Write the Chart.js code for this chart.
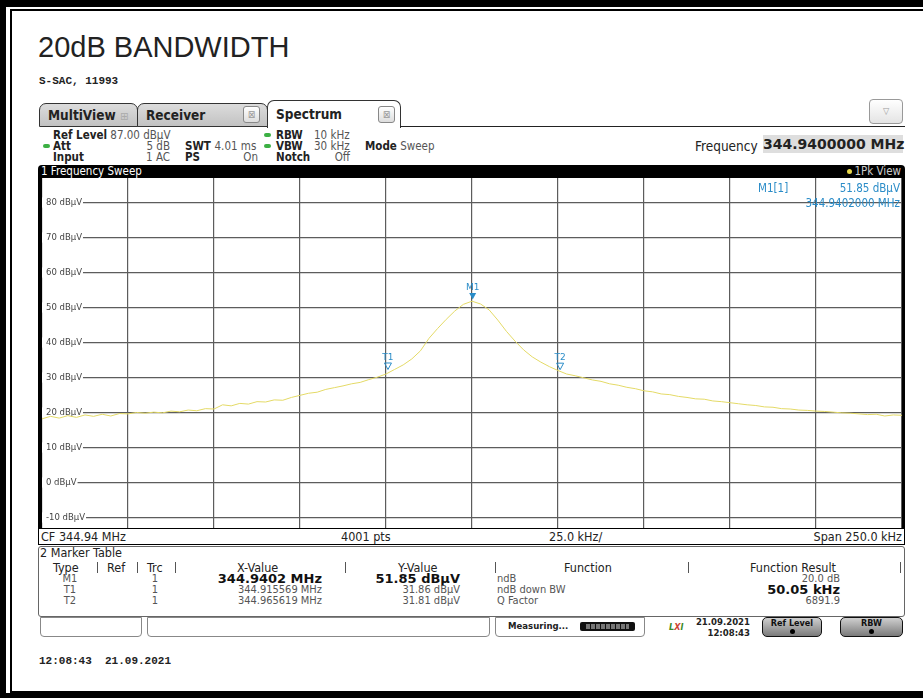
<!DOCTYPE html>
<html>
<head>
<meta charset="utf-8">
<script src="https://cdn.jsdelivr.net/npm/chart.js@4.4.1/dist/chart.umd.min.js"></script>
<style>
  html, body { margin: 0; padding: 0; background: #fff; }
  body { width: 923px; height: 698px; position: relative; overflow: hidden;
         font-family: "DejaVu Sans Condensed", "DejaVu Sans", sans-serif; font-stretch: condensed; color: #222; }
  .abs { position: absolute; white-space: nowrap; }
  .b { font-weight: bold; }
  .g { color: #555; }
  #frameOuter { position: absolute; left: 0; top: 0; width: 980px; height: 698px; box-sizing: border-box;
                border: 6px solid #000; border-top-width: 7px; border-bottom-width: 5px; }
  #frameInner { position: absolute; left: 10px; top: 9px; width: 980px; height: 684px; box-sizing: border-box;
                border: 2px solid #000; }
  .tab { position: absolute; top: 103px; height: 24px; box-sizing: border-box; border: 1px solid #333;
         border-radius: 7px 7px 0 0; background: linear-gradient(#dcdcdc, #c2c2c2);
         font-weight: bold; font-size: 13.5px; line-height: 22px; padding-left: 8px; }
  .tab.active { top: 100px; height: 28px; background: #fff; border-bottom: none; line-height: 26px; }
  .close { position: absolute; width: 17px; height: 17px; box-sizing: border-box; border: 1px solid #888;
           border-radius: 3px; background: linear-gradient(#fff, #ddd); color: #999; font-size: 10px;
           line-height: 15px; text-align: center; font-weight: normal; }
  .info { font-size: 11.5px; line-height: 11px; }
  .sep { position: absolute; top: 562px; width: 1px; height: 11px; background: #555; }
  .th { font-size: 12.5px; line-height: 12px; top: 562px; }
  .td { font-size: 11px; line-height: 11px; color: #555; }
  .btn { position: absolute; top: 617px; height: 20px; box-sizing: border-box; border: 1px solid #111;
         border-radius: 5px; background: linear-gradient(#cfcfcf, #7a7a7a); text-align: center;
         font-size: 9px; font-weight: bold; line-height: 10px; color: #111; font-family: "DejaVu Sans", sans-serif; }
  .dot { display: block; width: 5px; height: 5px; border-radius: 50%; background: #000; margin: 1px auto 0; }
</style>
</head>
<body>
<div id="frameOuter"></div>
<div id="frameInner"></div>

<div class="abs" style="left:38px; top:33px; font:29px 'Liberation Sans', Arial, sans-serif; line-height:29px;">20dB BANDWIDTH</div>
<div class="abs b" style="left:39px; top:76px; font:bold 11px 'Liberation Mono', monospace; line-height:11px;">S-SAC, 11993</div>

<!-- tabs -->
<div class="tab" style="left:39px; width:99px;">MultiView <span style="color:#aaa; font-weight:normal; font-size:11px;">&#8862;</span></div>
<div class="tab" style="left:137px; width:131px;">Receiver<div class="close" style="left:105px; top:2px;">&#8864;</div></div>
<div class="tab active" style="left:267px; width:134px;">Spectrum<div class="close" style="left:110px; top:5px;">&#8864;</div></div>
<div class="abs" style="left:400px; top:126px; width:505px; border-top:1px solid #222;"></div>
<div class="abs" style="left:869px; top:99px; width:34px; height:25px; box-sizing:border-box; border:1px solid #999; border-radius:4px; background:linear-gradient(#fff,#e4e4e4); color:#999; font-size:9px; text-align:center; line-height:23px;">&#9661;</div>

<!-- settings block -->
<div class="abs info" style="left:53px; top:130px;"><span class="b">Ref Level</span> <span class="g">87.00 dBµV</span></div>
<div class="abs" style="left:43px; top:144px; width:7px; height:4px; border-radius:2px; background:#3cb043;"></div>
<div class="abs info b" style="left:53px; top:141px;">Att</div>
<div class="abs info b" style="left:53px; top:152px;">Input</div>
<div class="abs info g" style="left:120px; top:141px; width:50px; text-align:right;">5 dB</div>
<div class="abs info g" style="left:120px; top:152px; width:50px; text-align:right;">1 AC</div>
<div class="abs info b" style="left:185px; top:141px;">SWT <span class="g" style="font-weight:normal;">4.01 ms</span></div>
<div class="abs info b" style="left:185px; top:152px;">PS</div>
<div class="abs info g" style="left:220px; top:152px; width:38px; text-align:right;">On</div>
<div class="abs" style="left:264px; top:133px; width:7px; height:4px; border-radius:2px; background:#3cb043;"></div>
<div class="abs" style="left:264px; top:144px; width:7px; height:4px; border-radius:2px; background:#3cb043;"></div>
<div class="abs info b" style="left:276px; top:130px;">RBW</div>
<div class="abs info b" style="left:276px; top:141px;">VBW</div>
<div class="abs info b" style="left:276px; top:152px;">Notch</div>
<div class="abs info g" style="left:314px; top:130px;">10 kHz</div>
<div class="abs info g" style="left:314px; top:141px;">30 kHz</div>
<div class="abs info g" style="left:320px; top:152px; width:30px; text-align:right;">Off</div>
<div class="abs info" style="left:365px; top:141px;"><span class="b">Mode</span> <span class="g">Sweep</span></div>

<div class="abs" style="left:695px; top:140px; font-size:13.5px; line-height:13px;">Frequency</div>
<div class="abs b" style="left:763px; top:135px; width:140px; height:18px; background:#dedede; font:bold 14px 'DejaVu Sans', sans-serif; line-height:18px; text-align:right;" id="cfBox"></div>

<!-- sweep window -->
<div class="abs" style="left:38px; top:165px; width:867px; height:13px; background:#000; border-radius:4px 4px 0 0; color:#fff; font-size:11.5px; line-height:13px;">
  <span style="padding-left:3px;">1 Frequency Sweep</span>
  <span style="position:absolute; right:4px; color:#ccc;"><span style="display:inline-block; width:5px; height:5px; border-radius:50%; background:#e8d84a; margin-right:2px; vertical-align:1px;"></span>1Pk View</span>
</div>
<div class="abs" style="left:38px; top:178px; width:867px; height:351px; box-sizing:border-box; border-left:4px solid #000; border-right:3px solid #000; border-bottom:1px solid #000;"></div>
<canvas id="chart" width="860" height="350" style="position:absolute; left:42px; top:178px;"></canvas>
<div class="abs" id="readM" style="left:758px; top:183px; font-size:11.5px; line-height:11px; color:#2a8cc8;"></div>
<div class="abs" id="readL" style="left:800px; top:183px; width:100px; text-align:right; font-size:11.5px; line-height:11px; color:#2a8cc8;"></div>
<div class="abs" id="readF" style="left:780px; top:198px; width:120px; text-align:right; font-size:11.5px; line-height:11px; color:#2a8cc8;"></div>

<!-- bottom sweep info -->
<div class="abs" style="left:38px; top:529px; width:867px; height:16px; box-sizing:border-box; border:1px solid #000; border-top:none; font-size:12.5px; line-height:15px;">
  <span style="position:absolute; left:2px;" id="cfText"></span>
  <span style="position:absolute; left:302px;">4001 pts</span>
  <span style="position:absolute; left:510px;">25.0 kHz/</span>
  <span style="position:absolute; right:2px;" id="spanText"></span>
</div>

<!-- marker table -->
<div class="abs" style="left:38px; top:546px; width:867px; height:71px; box-sizing:border-box; border:1px solid #666; border-radius:3px;"></div>
<div class="abs" style="left:40px; top:547px; font-size:12.5px; line-height:12px;">2 Marker Table</div>
<div class="abs th" style="left:53px;">Type</div>
<div class="abs th" style="left:107px;">Ref</div>
<div class="abs th" style="left:147px;">Trc</div>
<div class="abs th" style="left:237px;">X-Value</div>
<div class="abs th" style="left:398px;">Y-Value</div>
<div class="abs th" style="left:564px;">Function</div>
<div class="abs th" style="left:750px;">Function Result</div>
<div class="sep" style="left:97px;"></div>
<div class="sep" style="left:137px;"></div>
<div class="sep" style="left:175px;"></div>
<div class="sep" style="left:345px;"></div>
<div class="sep" style="left:495px;"></div>
<div class="sep" style="left:688px;"></div>
<div class="sep" style="left:900px;"></div>
<div id="rows"></div>

<!-- status bar -->
<div class="abs" style="left:40px; top:617px; width:102px; height:20px; box-sizing:border-box; border:1px solid #888; border-radius:0 0 4px 4px;"></div>
<div class="abs" style="left:147px; top:617px; width:343px; height:20px; box-sizing:border-box; border:1px solid #888; border-radius:0 0 4px 4px;"></div>
<div class="abs" style="left:495px; top:617px; width:150px; height:20px; box-sizing:border-box; border:1px solid #888; border-radius:0 0 4px 4px;"></div>
<div class="abs b" style="left:508px; top:621px; font-size:9.5px; line-height:10px; font-family:'DejaVu Sans',sans-serif;">Measuring...</div>
<div class="abs" style="left:580px; top:622px; width:55px; height:9px; background:#111; border-radius:2px;">
  <div style="position:absolute; left:6px; top:2px; width:43px; height:5px; background:repeating-linear-gradient(90deg,#777 0 4px,#111 4px 5px);"></div>
</div>
<div class="abs b" style="left:669px; top:623px; font-size:9px; font-style:italic; color:#3a8a2a; line-height:9px;">L<span style="color:#c43">X</span>I</div>
<div class="abs b" style="left:690px; top:616px; width:60px; text-align:right; font-size:9.5px; line-height:11px; font-family:'DejaVu Sans',sans-serif;">21.09.2021<br>12:08:43</div>
<div class="btn" style="left:762px; width:60px;">Ref Level<span class="dot"></span></div>
<div class="btn" style="left:840px; width:63px;">RBW<span class="dot"></span></div>

<div class="abs b" style="left:39px; top:656px; font:bold 11px 'Liberation Mono', monospace; line-height:11px;">12:08:43&nbsp;&nbsp;21.09.2021</div>

<script>
// Trace (offset from centre frequency in kHz) and level in dBµV
var centerFreqMHz = 344.94;
var spanKHz = 250;
var freqOffsetsKHz = [
  -125, -122.5, -120, -117.5, -115, -112.5, -110, -107.5, -105, -102.5,
  -100, -97.5, -95, -92.5, -90, -87.5, -85, -82.5, -80, -77.5,
  -75, -72.5, -70, -67.5, -65, -62.5, -60, -57.5, -55, -52.5,
  -50, -47.5, -45, -42.5, -40, -37.5, -35, -32.5, -30, -27.5,
  -25, -22.5, -20, -17.5, -15, -12.5, -10, -7.5, -5, -2.5,
  0, 2.5, 5, 7.5, 10, 12.5, 15, 17.5, 20, 22.5,
  25, 27.5, 30, 32.5, 35, 37.5, 40, 42.5, 45, 47.5,
  50, 52.5, 55, 57.5, 60, 62.5, 65, 67.5, 70, 72.5,
  75, 77.5, 80, 82.5, 85, 87.5, 90, 92.5, 95, 97.5,
  100, 102.5, 105, 107.5, 110, 112.5, 115, 117.5, 120, 122.5, 125
];
var levelsDbuv = [
  18.2, 18.9, 18.4, 19.1, 18.6, 19.3, 18.9, 19.5, 19.0, 19.7,
  19.6, 20.0, 19.8, 20.1, 19.9, 20.4, 20.2, 20.7, 20.5, 21.1,
  21.0, 22.2, 21.9, 22.6, 22.4, 23.1, 23.0, 23.6, 23.5, 24.3,
  24.9, 25.5, 25.8, 26.6, 27.1, 27.6, 28.2, 28.6, 29.4, 30.1,
  31.0, 32.3, 33.6, 35.3, 37.6, 41.2, 44.0, 46.6, 49.0, 50.9,
  51.8, 51.0, 49.3, 46.4, 43.2, 40.4, 37.9, 35.9, 34.4, 33.1,
  32.0, 31.0, 30.5, 29.9, 29.3, 28.9, 28.2, 27.8, 27.2, 26.8,
  26.2, 25.9, 25.3, 25.1, 24.6, 24.3, 23.9, 23.8, 23.3, 23.1,
  22.8, 22.5, 22.2, 22.0, 21.6, 21.5, 21.1, 21.0, 20.7, 20.6,
  20.4, 20.3, 20.1, 19.9, 19.8, 19.6, 19.4, 19.5, 19.0, 19.3, 19.2
];
var gridFreqsKHz = [-125, -100, -75, -50, -25, 0, 25, 50, 75, 100, 125];
var levelTicks = [-10, 0, 10, 20, 30, 40, 50, 60, 70, 80];

// Markers
var markerNames = ['M1', 'T1', 'T2'];
var markerFreqsMHz = [344.9402, 344.915569, 344.965619];
var markerLevels = [51.85, 31.86, 31.81];
var functionNames = ['ndB', 'ndB down BW', 'Q Factor'];
var functionResults = ['20.0 dB', '50.05 kHz', '6891.9'];

var traceYellow = '#e4da66';
var markerBlue = '#2a8cc8';
var gridGray = '#5c5c5c';

// header / footer texts
document.getElementById('cfBox').textContent = centerFreqMHz.toFixed(7) + ' MHz';
document.getElementById('cfText').textContent = 'CF ' + centerFreqMHz.toFixed(2) + ' MHz';
document.getElementById('spanText').textContent = 'Span ' + spanKHz.toFixed(1) + ' kHz';
document.getElementById('readM').textContent = markerNames[0] + '[1]';
document.getElementById('readL').textContent = markerLevels[0].toFixed(2) + ' dBµV';
document.getElementById('readF').textContent = markerFreqsMHz[0].toFixed(7) + ' MHz';

// marker table rows
var rowsHtml = '';
var rowTops = [573, 584, 595];
var boldStyle = 'font-weight:bold;font-size:13px;color:#111;font-family:\'DejaVu Sans\',sans-serif;font-stretch:normal;';
markerNames.forEach(function (name, i) {
    var bold = i === 0;
    var xs = bold ? markerFreqsMHz[i].toFixed(4) : markerFreqsMHz[i].toFixed(6);
    var st = bold ? boldStyle : '';
    var fst = i === 1 ? boldStyle : '';
    var t = rowTops[i];
    rowsHtml += '<div class="abs td" style="left:58px;top:' + t + 'px;width:24px;text-align:center;">' + name + '</div>';
    rowsHtml += '<div class="abs td" style="left:150px;top:' + t + 'px;width:10px;text-align:center;">1</div>';
    rowsHtml += '<div class="abs td" style="left:190px;top:' + t + 'px;width:132px;text-align:right;' + st + '">' + xs + ' MHz</div>';
    rowsHtml += '<div class="abs td" style="left:350px;top:' + t + 'px;width:110px;text-align:right;' + st + '">' + markerLevels[i].toFixed(2) + ' dBµV</div>';
    rowsHtml += '<div class="abs td" style="left:497px;top:' + t + 'px;">' + functionNames[i] + '</div>';
    rowsHtml += '<div class="abs td" style="left:700px;top:' + t + 'px;width:140px;text-align:right;' + fst + '">' + functionResults[i] + '</div>';
});
document.getElementById('rows').innerHTML = rowsHtml;

// ─── Marker symbols on the trace ─────────────────────────────────────────
var markerPlugin = {
    id: 'markers',
    afterDatasetsDraw: function (chart) {
        var ctx = chart.ctx;
        var x = chart.scales.x, y = chart.scales.y;
        ctx.save();
        markerNames.forEach(function (name, i) {
            var px = x.getPixelForValue((markerFreqsMHz[i] - centerFreqMHz) * 1000);
            var py = y.getPixelForValue(markerLevels[i]);
            ctx.beginPath();
            ctx.moveTo(px, py - 1.5);
            ctx.lineTo(px - 3.5, py - 8);
            ctx.lineTo(px + 3.5, py - 8);
            ctx.closePath();
            ctx.strokeStyle = markerBlue;
            ctx.fillStyle = markerBlue;
            ctx.lineWidth = 1;
            if (i === 0) ctx.fill(); else ctx.stroke();
            ctx.font = '9px "DejaVu Sans"';
            ctx.textAlign = 'center';
            ctx.textBaseline = 'bottom';
            ctx.fillText(name, px, py - 9);
        });
        ctx.restore();
    }
};

// let the plot fill the whole canvas: labels sit inside it
function noPadding(scale) {
    if (scale.isHorizontal()) scale.height = 0; else scale.width = 0;
    scale.paddingTop = 0;
    scale.paddingBottom = 0;
    scale.paddingLeft = 0;
    scale.paddingRight = 0;
}

var trace = freqOffsetsKHz.map(function (f, i) { return { x: f, y: levelsDbuv[i] }; });

new Chart(document.getElementById('chart').getContext('2d'), {
    type: 'line',
    data: {
        datasets: [{
            data: trace,
            borderColor: traceYellow,
            borderWidth: 1,
            pointRadius: 0,
            tension: 0
        }]
    },
    options: {
        responsive: false,
        animation: false,
        devicePixelRatio: 1,
        layout: { padding: 0 },
        plugins: { legend: { display: false }, tooltip: { enabled: false } },
        scales: {
            x: {
                type: 'linear',
                min: -125,
                max: 125,
                afterBuildTicks: function (s) { s.ticks = gridFreqsKHz.map(function (v) { return { value: v }; }); },
                afterFit: noPadding,
                ticks: { display: false },
                grid: { color: gridGray, lineWidth: 1.2, drawTicks: false },
                border: { display: false }
            },
            y: {
                min: -13,
                max: 87,
                afterBuildTicks: function (s) { s.ticks = levelTicks.map(function (v) { return { value: v }; }); },
                afterFit: noPadding,
                ticks: {
                    mirror: true,
                    padding: 4,
                    color: '#444',
                    font: { family: 'DejaVu Sans', size: 8.5 },
                    callback: function (v) { return v + ' dBµV'; },
                    showLabelBackdrop: true,
                    backdropColor: '#ffffff',
                    backdropPadding: { left: 4, right: 1, top: 0, bottom: 0 }
                },
                grid: { color: gridGray, lineWidth: 1.2, drawTicks: false },
                border: { display: false }
            }
        }
    },
    plugins: [markerPlugin]
});
</script>
</body>
</html>
